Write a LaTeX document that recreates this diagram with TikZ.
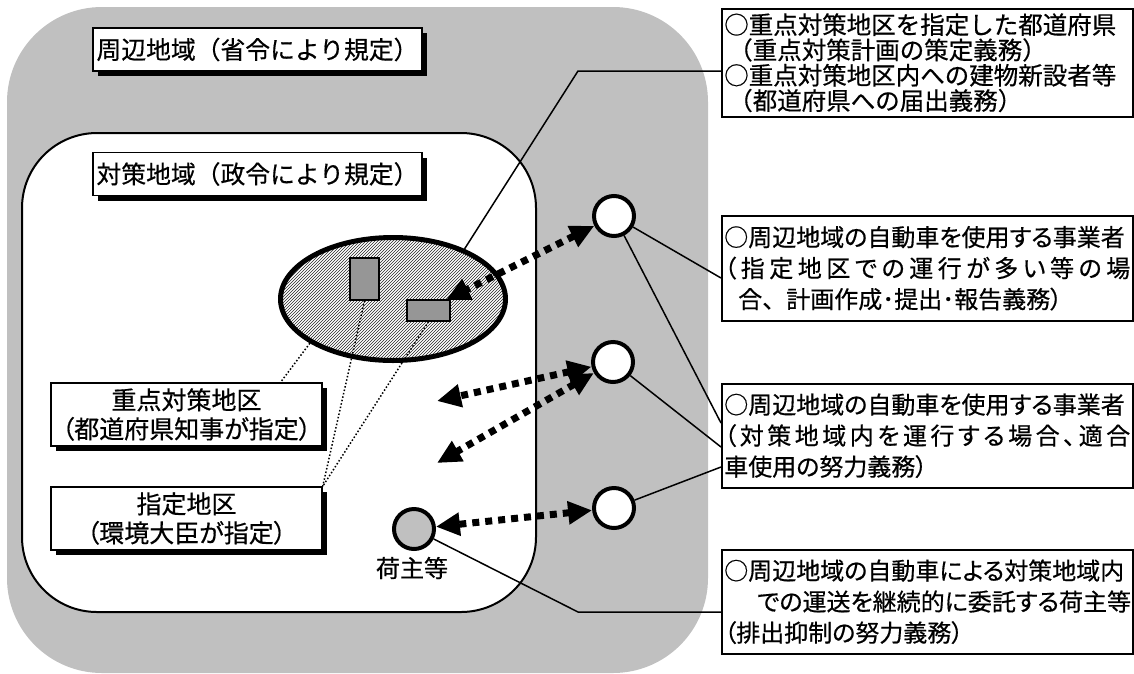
\documentclass[tikz,border=0pt]{standalone}
\usepackage{fontspec}
\newfontfamily\jp[FakeBold=0.5]{Noto Sans CJK JP}
\newfontfamily\jpp[RawFeature=+palt,FakeBold=0.5]{Noto Sans CJK JP}
\usetikzlibrary{arrows.meta,patterns,shapes.geometric,shadows}
\definecolor{outergray}{RGB}{192,192,192}
\definecolor{rectgray}{RGB}{150,150,150}
\makeatletter
\def\sprx#1#2{#1\ifx\relax#2\else\hfil\spr@after{\sprx#2}\fi}
\def\spr@after#1#2\fi{\fi#1}
\makeatother
\tikzset{
  blackshadow/.style={drop shadow={shadow xshift=5pt,shadow yshift=-5pt,fill=black,opacity=1}},
  lbl/.style={draw,line width=1.5pt,fill=white,inner sep=0pt,
    font=\jp\fontsize{24.8}{26}\selectfont,minimum width=329pt,minimum height=43pt,blackshadow},
  lbox/.style={draw,line width=1.5pt,fill=white,inner sep=0pt,align=center,
    font=\jpp\fontsize{25}{29}\selectfont,minimum width=271pt,minimum height=63pt,blackshadow},
  rbox/.style={draw,line width=1.5pt,fill=white,anchor=north west,inner xsep=2pt,inner ysep=0pt,
    align=left,text width=406pt,minimum width=411pt},
  circ/.style={circle,draw,line width=4pt,fill=white,minimum size=40pt,inner sep=0pt},
  grect/.style={draw,line width=1.5pt,fill=rectgray,inner sep=0pt},
  conn/.style={line width=1.5pt},
  dotconn/.style={line width=1.5pt,dotted},
  dotarr/.style={line width=7pt,dash pattern=on 7pt off 6pt,
    {Triangle[length=24pt,width=22pt]}-{Triangle[length=24pt,width=22pt]}}
}
\begin{document}
\begin{tikzpicture}[x=1pt,y=-1pt]
\useasboundingbox (0,0) rectangle (1134,673);
% regions
\fill[outergray,rounded corners=95pt] (7,7) rectangle (708,673);
\draw[line width=2pt,fill=white,rounded corners=75pt] (22,133) rectangle (536,612);
\node[lbl] (lab1) at (257.5,49.5) {周辺地域（省令により規定）};
\node[lbl] (lab2) at (257.5,174) {対策地域（政令により規定）};
% right boxes
\node[rbox,minimum height=108pt,font=\jp\fontsize{24.5}{25.3}\selectfont] (b1) at (721,8)
  {○重点対策地区を指定した都道府県\\\hspace*{4pt}（重点対策計画の策定義務）\\○重点対策地区内への建物新設者等\\\hspace*{4pt}（都道府県への届出義務）};
\node[rbox,minimum height=105pt,font=\jpp\fontsize{24}{32}\selectfont] (b2) at (721,215)
  {○周辺地域の自動車を使用する事業者\\[-1pt]\leavevmode\hbox to 406pt{（\hfil\sprx 指定地区での運行が多い等の場\relax}\\[-1pt]\hspace*{14pt}合{\jp 、}計画作成･提出･報告義務）};
\node[rbox,minimum height=104pt,font=\jpp\fontsize{24}{32}\selectfont] (b3) at (721,383)
  {○周辺地域の自動車を使用する事業者\\[-1pt]\leavevmode\hbox to 406pt{（\hfil\sprx 対策地域内を運行する場合、適合\relax}\\[-1pt]車使用の努力義務）};
\node[rbox,minimum height=104pt,font=\jpp\fontsize{24}{31}\selectfont] (b4) at (721,549)
  {○周辺地域の自動車による対策地域内\\\hspace*{33pt}での運送を継続的に委託する荷主等\\（排出抑制の努力義務）};
% ellipse and rects
\node[ellipse,draw,line width=5pt,minimum width=225pt,minimum height=123pt,inner sep=0pt,
  pattern=north east lines,pattern color=black!85] (ell) at (393,299) {};
\node[grect,minimum width=29pt,minimum height=42pt] (r1) at (364.5,279) {};
\node[grect,minimum width=43pt,minimum height=21pt] (r2) at (428.5,310.5) {};
% left boxes
\node[lbox] (lb1) at (186.5,414.5) {重点対策地区\\（都道府県知事が指定）};
\node[lbox] (lb2) at (186.5,518.5) {指定地区\\（環境大臣が指定）};
\coordinate (d1) at (280,383);
\draw[dotconn] (ell.208) -- (d1);
\draw[dotconn] (r1.south) -- (lb2.north east);
\draw[dotconn] (r2.south) -- (lb2.north east);
% circles
\node[circ] (c1) at (614,216) {};
\node[circ] (c2) at (613,362) {};
\node[circ] (c3) at (614,508) {};
\node[circ,fill=outergray] (ch) at (414,529) {};
\node[font=\jp\fontsize{24}{26}\selectfont,inner sep=0pt] (chl) at (412,568) {荷主等};
% connectors
\coordinate (k1) at (578,71);
\draw[conn] (ell.35) -- (k1) -- (k1 -| b1.west);
\coordinate (e1) at (721,278);
\coordinate (e2) at (721,423);
\coordinate (e3) at (721,447);
\coordinate (e4) at (721,467);
\draw[conn] (c1) -- (e1);
\draw[conn] (c1) -- (e2);
\draw[conn] (c2) -- (e3);
\draw[conn] (c3) -- (e4);
\coordinate (k2) at (578,612);
\draw[conn] (ch) -- (k2) -- (k2 -| b4.west);
% arrows
\coordinate (tA) at (446,300);
\coordinate (tB) at (437,401);
\coordinate (tC) at (437,463);
\draw[dotarr] (c1) -- (tA);
\draw[dotarr] (c2) -- (tB);
\draw[dotarr] (c2) -- (tC);
\draw[dotarr] (c3) -- (ch);
\end{tikzpicture}
\end{document}
